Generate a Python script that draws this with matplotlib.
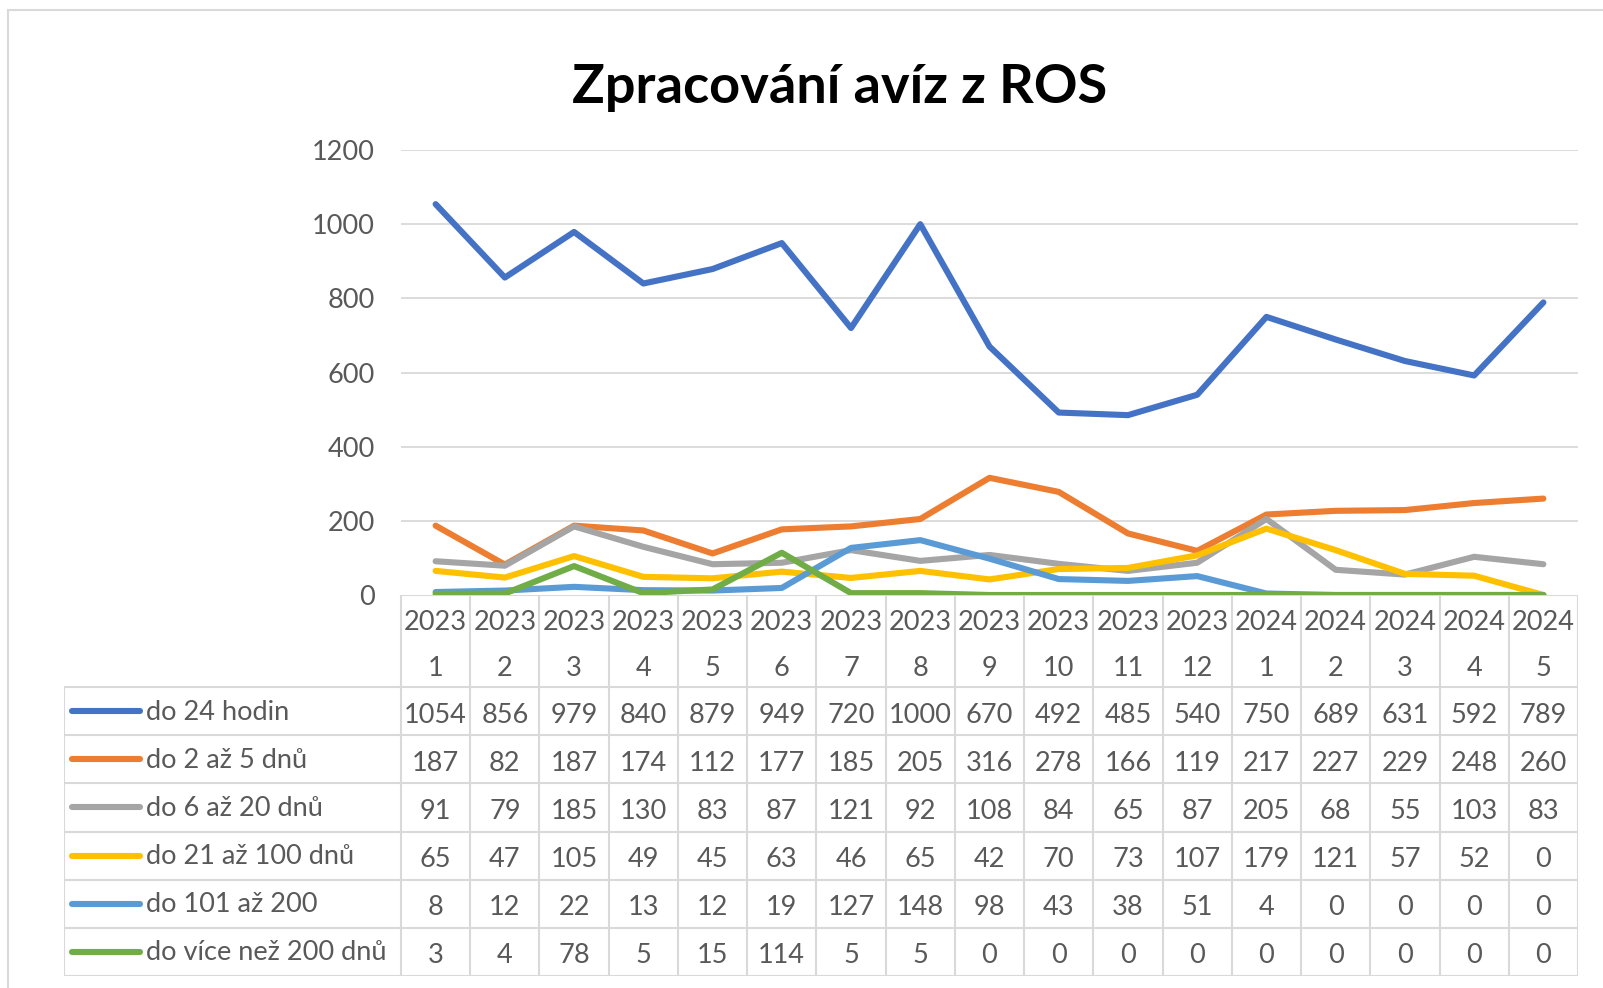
import matplotlib.pyplot as plt
from matplotlib.patches import Rectangle

plt.rcParams['font.family'] = ['Lato', 'DejaVu Sans']

# data
years = ['2023'] * 12 + ['2024'] * 5
months = [str(m) for m in range(1, 13)] + [str(m) for m in range(1, 6)]
series_names = ['do 24 hodin', 'do 2 až 5 dnů', 'do 6 až 20 dnů',
                'do 21 až 100 dnů', 'do 101 až 200', 'do více než 200 dnů']
do_24_hodin = [1054, 856, 979, 840, 879, 949, 720, 1000, 670, 492, 485, 540, 750, 689, 631, 592, 789]
do_2_5 = [187, 82, 187, 174, 112, 177, 185, 205, 316, 278, 166, 119, 217, 227, 229, 248, 260]
do_6_20 = [91, 79, 185, 130, 83, 87, 121, 92, 108, 84, 65, 87, 205, 68, 55, 103, 83]
do_21_100 = [65, 47, 105, 49, 45, 63, 46, 65, 42, 70, 73, 107, 179, 121, 57, 52, 0]
do_101_200 = [8, 12, 22, 13, 12, 19, 127, 148, 98, 43, 38, 51, 4, 0, 0, 0, 0]
do_200_plus = [3, 4, 78, 5, 15, 114, 5, 5, 0, 0, 0, 0, 0, 0, 0, 0, 0]
series = [do_24_hodin, do_2_5, do_6_20, do_21_100, do_101_200, do_200_plus]
colors = ['#4472C4', '#ED7D31', '#A5A5A5', '#FFC000', '#5B9BD5', '#70AD47']

W, H = 1603, 988
grid_c = '#d9d9d9'
txt_c = '#595959'
fs = 19.5
lw = 4.4

fig = plt.figure(figsize=(W / 100, H / 100), dpi=100)

# outer frame
fig.patches.append(Rectangle((8 / W, -0.1), 1.2, 1 - 10 / H + 0.1, transform=fig.transFigure,
                             fill=False, edgecolor=grid_c, lw=1.5))

fig.text(840 / W, 1 - 88 / H, 'Zpracování avíz z ROS', ha='center', va='center',
         fontsize=39, fontweight='bold', color='black')

# plot area
x0, x1, ytop, ybot = 401, 1578, 150, 595
ax = fig.add_axes([x0 / W, 1 - ybot / H, (x1 - x0) / W, (ybot - ytop) / H])
n = len(months)
xs = list(range(n))
for yv in range(200, 1201, 200):
    ax.axhline(yv, color=grid_c, lw=1.3, zorder=0)
for vals, c in zip(series, colors):
    ax.plot(xs, vals, color=c, lw=lw, solid_capstyle='round', solid_joinstyle='round')
ax.set_xlim(-0.5, n - 0.5)
ax.set_ylim(0, 1200)
ax.set_yticks(range(0, 1201, 200))
ax.set_xticks([])
ax.tick_params(axis='y', length=0, pad=19, labelsize=fs, labelcolor=txt_c)
for s in ax.spines.values():
    s.set_visible(False)
ax.patch.set_alpha(0)

# data table below
tx0, tybot = 64, 976
tab = fig.add_axes([tx0 / W, 1 - tybot / H, (x1 - tx0) / W, (tybot - ybot) / H])
tab.set_xlim(tx0, x1)
tab.set_ylim(tybot, ybot)
tab.axis('off')
colw = (x1 - x0) / n
head_h = 92
row_h = (tybot - ybot - head_h) / len(series)

# grid lines of the table
tab.plot([x0, x1], [ybot, ybot], color=grid_c, lw=1.5)
for i in range(n + 1):
    xv = x0 + i * colw
    tab.plot([xv, xv], [ybot, tybot], color=grid_c, lw=1.5)
tab.plot([tx0, tx0], [ybot + head_h, tybot], color=grid_c, lw=1.5)
for r in range(len(series) + 1):
    yv = ybot + head_h + r * row_h
    tab.plot([tx0, x1], [yv, yv], color=grid_c, lw=1.5)

# header
for i in range(n):
    cx = x0 + (i + 0.5) * colw
    tab.text(cx, ybot + 28, years[i], ha='center', va='center', fontsize=fs, color=txt_c)
    tab.text(cx, ybot + 73, months[i], ha='center', va='center', fontsize=fs, color=txt_c)

# rows
for r, (name, vals, c) in enumerate(zip(series_names, series, colors)):
    cy = ybot + head_h + (r + 0.5) * row_h
    tab.plot([72, 140], [cy, cy], color=c, lw=lw, solid_capstyle='round')
    tab.text(146, cy + 1, name, ha='left', va='center', fontsize=fs, color=txt_c)
    for i, v in enumerate(vals):
        tab.text(x0 + (i + 0.5) * colw, cy + 4, str(v), ha='center', va='center',
                 fontsize=fs, color=txt_c)

fig.savefig('out.png', dpi=100)
